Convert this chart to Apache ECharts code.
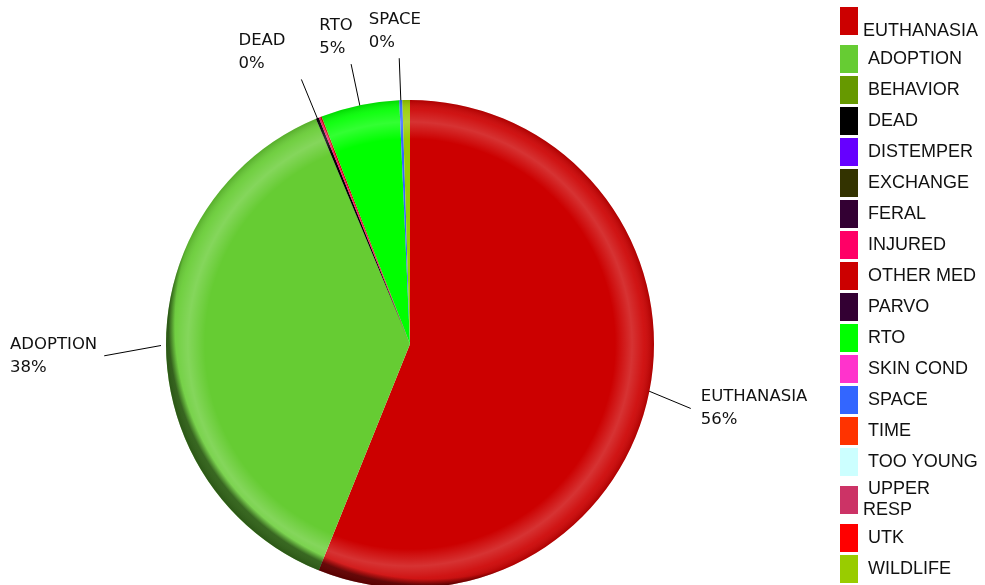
<!DOCTYPE html>
<html>
<head>
<meta charset="utf-8">
<script src="https://cdn.jsdelivr.net/npm/echarts@6/dist/echarts.min.js"></script>
<style>
  html, body { margin: 0; padding: 0; background: #fff; }
  #container { width: 985px; height: 585px; }
</style>
</head>
<body>
<div id="container"></div>
<script>
// outcome categories, legend order = slice order (clockwise from 12 o'clock)
const categories = ['EUTHANASIA', 'ADOPTION', 'BEHAVIOR', 'DEAD', 'DISTEMPER', 'EXCHANGE',
  'FERAL', 'INJURED', 'OTHER MED', 'PARVO', 'RTO', 'SKIN COND', 'SPACE', 'TIME',
  'TOO YOUNG', 'UPPER RESP', 'UTK', 'WILDLIFE'];
const counts = [561, 376, 0, 2, 0, 0, 0, 1, 1, 0, 52, 0, 2, 0, 0, 0, 0, 5];
const colors = ['#cc0000', '#66cc33', '#669900', '#000000', '#6600ff', '#333300',
  '#330033', '#ff0066', '#cc0000', '#330033', '#00ff00', '#ff33cc', '#3366ff', '#ff3300',
  '#ccffff', '#cc3366', '#ff0000', '#99cc00'];
// only these slices get an outside label
const labeled = ['EUTHANASIA', 'ADOPTION', 'DEAD', 'RTO', 'SPACE'];
// legend names that wrap onto a second line
const legendWrap = { 'EUTHANASIA': ' \nEUTHANASIA', 'UPPER RESP': ' UPPER\nRESP' };

const CX = 410, CY = 344, R = 244;
const LINE_LEN = 42;

let dom = document.getElementById('container');
let myChart = echarts.init(dom);

let pieData = categories.map(function (name, i) {
  let show = labeled.indexOf(name) >= 0;
  return {
    name: name,
    value: counts[i],
    itemStyle: { color: colors[i] },
    label: { show: show },
    labelLine: { show: show }
  };
});

// straight leader line; left labels sit at the chart edge, top ones above the line end
function placeLabel(p) {
  let pts = p.labelLinePoints;
  if (!pts) return {};
  let dx = pts[0][0] - CX, dy = pts[0][1] - CY;
  let len = Math.sqrt(dx * dx + dy * dy) || 1;
  dx /= len; dy /= len;
  let sx = CX + dx * (R - 4), sy = CY + dy * (R - 4);
  let ex = CX + dx * (R + LINE_LEN), ey = CY + dy * (R + LINE_LEN);
  let w = p.labelRect.width, h = p.labelRect.height;
  let lx, ly;
  if (dx > 0.7) {
    ey += 10;
    lx = ex + 10;
    ly = ey - h / 2;
  } else if (dx < -0.7) {
    ey += 10;
    lx = 10;
    ex = lx + w + 7;
    sx = CX + dx * (R + 5);
    ly = ey - h / 2;
  } else {
    lx = ex + dx * w * 2.2 - w / 2;
    ly = dy < 0 ? ey - 4 - h : ey + 9;
  }
  return {
    x: lx, y: ly, align: 'left', verticalAlign: 'top',
    labelLinePoints: [[sx, sy], [ex, ey], [ex, ey]]
  };
}

let option = {
  backgroundColor: '#fff',
  animation: false,
  legend: {
    orient: 'vertical',
    left: 840,
    top: 0,
    padding: 0,
    itemWidth: 18,
    itemHeight: 28,
    itemGap: 3,
    icon: 'rect',
    selectedMode: false,
    data: categories,
    formatter: function (name) {
      return legendWrap[name] || (' ' + name);
    },
    textStyle: {
      fontFamily: 'Liberation Sans',
      fontSize: 18,
      lineHeight: 21,
      color: '#111'
    }
  },
  series: [
    {
      type: 'pie',
      center: [CX, CY],
      radius: R,
      startAngle: 90,
      clockwise: true,
      percentPrecision: 0,
      avoidLabelOverlap: false,
      itemStyle: { borderWidth: 0 },
      emphasis: { disabled: true },
      label: {
        show: false,
        formatter: '{b}\n{d}%',
        fontFamily: 'DejaVu Sans',
        fontSize: 16.5,
        lineHeight: 23,
        color: '#111'
      },
      labelLine: {
        show: false,
        smooth: false,
        lineStyle: { color: '#000', width: 1 }
      },
      labelLayout: placeLabel,
      data: pieData
    },
    {
      // bevel: light band near the rim, dark edge
      type: 'pie',
      center: [CX, CY],
      radius: R,
      silent: true,
      label: { show: false },
      labelLine: { show: false },
      emphasis: { disabled: true },
      itemStyle: { borderWidth: 0 },
      data: [{
        value: 1,
        name: '',
        itemStyle: {
          color: {
            type: 'radial', x: 0.5, y: 0.5, r: 0.5,
            colorStops: [
              { offset: 0, color: 'rgba(255,255,255,0)' },
              { offset: 0.84, color: 'rgba(255,255,255,0)' },
              { offset: 0.91, color: 'rgba(255,255,255,0.2)' },
              { offset: 0.96, color: 'rgba(255,255,255,0.08)' },
              { offset: 1, color: 'rgba(0,0,0,0.15)' }
            ]
          }
        }
      }]
    },
    {
      // shadow towards the lower left rim
      type: 'pie',
      center: [CX, CY],
      radius: R,
      silent: true,
      label: { show: false },
      labelLine: { show: false },
      emphasis: { disabled: true },
      itemStyle: { borderWidth: 0 },
      data: [{
        value: 1,
        name: '',
        itemStyle: {
          color: {
            type: 'radial', x: 0.54, y: 0.46, r: 0.535,
            colorStops: [
              { offset: 0, color: 'rgba(0,0,0,0)' },
              { offset: 0.975, color: 'rgba(0,0,0,0)' },
              { offset: 1, color: 'rgba(0,0,0,0.5)' }
            ]
          }
        }
      }]
    }
  ]
};

myChart.setOption(option);
</script>
</body>
</html>
